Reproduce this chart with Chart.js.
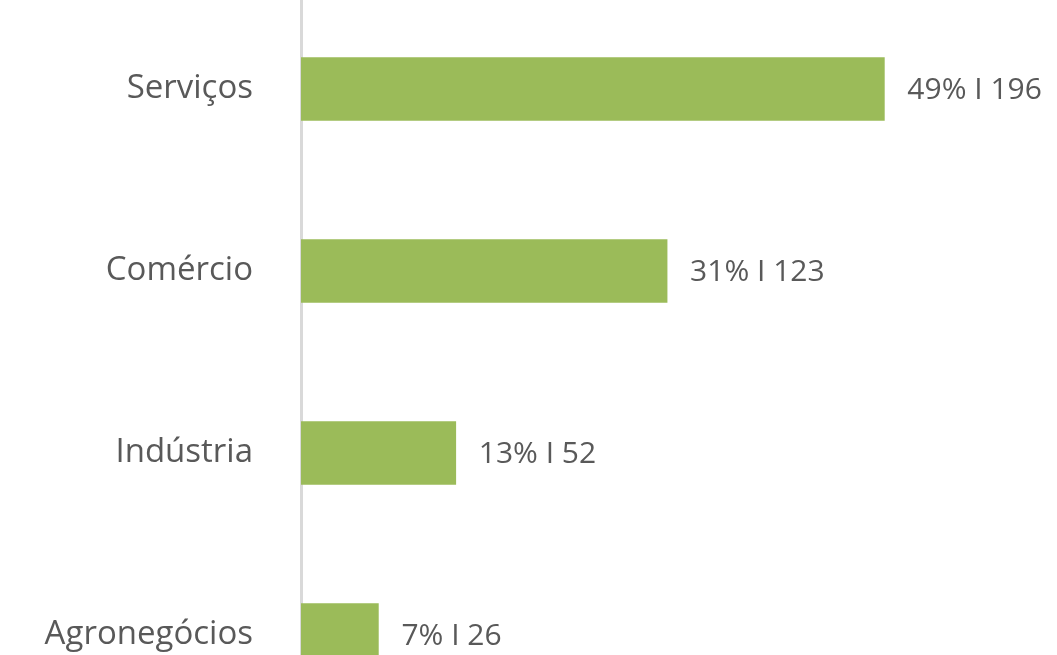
<!DOCTYPE html>
<html>
<head>
<meta charset="utf-8">
<script src="https://cdn.jsdelivr.net/npm/chart.js@4/dist/chart.umd.min.js"></script>
<style>
html,body{margin:0;padding:0;background:#fff;overflow:hidden;width:1057px;height:655px;}
#c{position:absolute;left:0;top:-2px;}
</style>
</head>
<body>
<canvas id="c" width="1057" height="728"></canvas>
<script>
const categories = ["Serviços", "Comércio", "Indústria", "Agronegócios"];
const counts = [196, 123, 52, 26];
const percents = ["49%", "31%", "13%", "7%"];

const FONT = '"Open Sans"';

const valueLabels = {
  id: 'valueLabels',
  afterDatasetsDraw(chart) {
    const ctx = chart.ctx;
    const meta = chart.getDatasetMeta(0);
    ctx.save();
    ctx.font = '30px ' + FONT;
    ctx.fillStyle = '#595959';
    ctx.textAlign = 'left';
    ctx.textBaseline = 'middle';
    meta.data.forEach((bar, i) => {
      ctx.fillText(percents[i] + ' I ' + counts[i], bar.x + 23, bar.y + 1);
    });
    ctx.restore();
  }
};

new Chart(document.getElementById('c'), {
  type: 'bar',
  data: {
    labels: categories,
    datasets: [{
      data: counts,
      backgroundColor: '#9BBB59',
      borderWidth: 0,
      barThickness: 63
    }]
  },
  options: {
    indexAxis: 'y',
    responsive: false,
    maintainAspectRatio: false,
    animation: false,
    devicePixelRatio: 1,
    layout: { padding: 0 },
    plugins: { legend: { display: false }, tooltip: { enabled: false } },
    scales: {
      x: { display: false, min: 0, max: 254 },
      y: {
        grid: { display: false, drawTicks: false },
        border: { display: true, color: '#D9D9D9', width: 3 },
        ticks: { color: '#595959', font: { family: FONT, size: 33 }, padding: 48 },
        afterFit(scale) {
          scale.width = 301;
          scale.paddingTop = 0;
          scale.paddingBottom = 0;
        }
      }
    }
  },
  plugins: [valueLabels]
});
</script>
</body>
</html>
